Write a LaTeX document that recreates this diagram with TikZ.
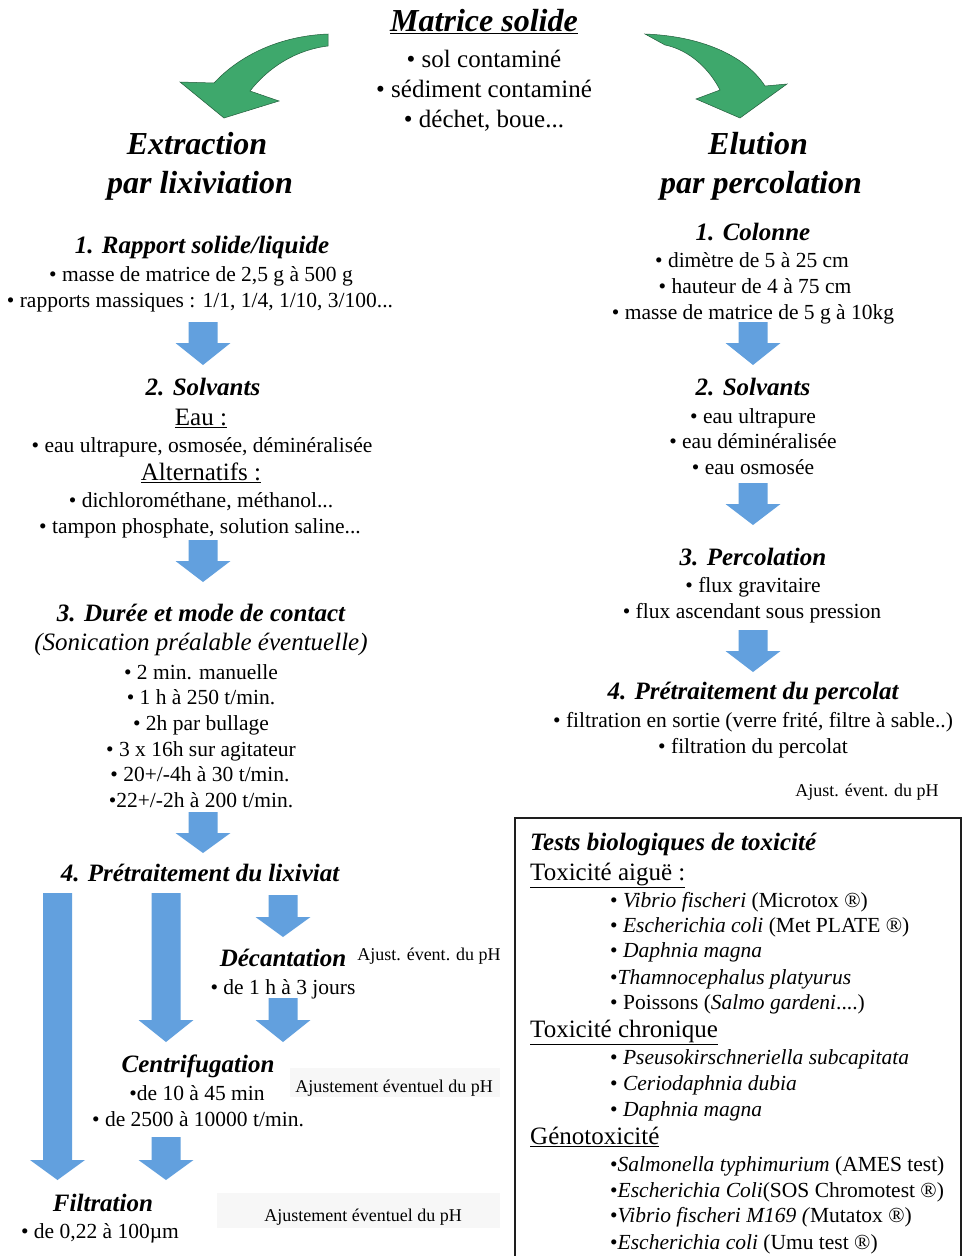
\documentclass[tikz,border=0pt]{standalone}
\usepackage{fontspec}
\setmainfont{Liberation Serif}
\definecolor{arrowblue}{RGB}{98,160,222}
\definecolor{arrowgreen}{RGB}{62,168,108}
\definecolor{boxline}{RGB}{30,30,30}
% block arrow pointing down: x centre, top of shaft, start of head, tip
\newcommand\blockdown[4]{%
  \fill[bluearrow] (#1-14.5,#2) -- (#1+14.5,#2) -- (#1+14.5,#3) -- (#1+27.5,#3)
    -- (#1,#4) -- (#1-27.5,#3) -- (#1-14.5,#3) -- cycle;}
\tikzset{
  txt/.style={inner sep=0pt, anchor=mid, yshift=-7pt},
  big/.style={txt, font=\fontsize{32}{36}\selectfont\bfseries\itshape},
  stage/.style={txt, font=\fontsize{25}{28}\selectfont\bfseries\itshape},
  lead/.style={txt, font=\fontsize{25}{28}\selectfont},
  item/.style={txt, font=\fontsize{21.5}{24}\selectfont},
  note/.style={txt, font=\fontsize{18}{20}\selectfont},
  boxlead/.style={lead, anchor=mid west},
  boxitem/.style={item, anchor=mid west},
  bluearrow/.style={fill=arrowblue},
  greenarrow/.style={fill=arrowgreen, draw=arrowgreen!55!black, line width=0.5pt},
  haze/.style={fill=black!3, draw=none},
}
\begin{document}
\begin{tikzpicture}[x=1pt,y=-1pt]
\useasboundingbox[fill=white] (0,0) rectangle (964,1256);

% ---- top: solid matrix and the two branches
\node[big] (matrice) at (484,22) {\underline{Matrice solide}};
\node[lead] (m1) at (484,58) {• sol contaminé};
\node[lead] (m2) at (484,88) {• sédiment contaminé};
\node[lead] (m3) at (484,118) {• déchet, boue...};

\filldraw[greenarrow] (328,34) .. controls (280,36) and (240,55) .. (214,83)
  -- (180,82) -- (224,118) -- (279,101) -- (250,91)
  .. controls (268,68) and (295,50) .. (328,46) -- cycle;
\filldraw[greenarrow] (645,34) .. controls (700,36) and (745,55) .. (765,86)
  -- (787,84) -- (740,118) -- (696,99) -- (720,90)
  .. controls (710,70) and (690,50) .. (665,45) -- cycle;

% ---- left branch: leaching
\node[big] (ext1) at (197,145) {Extraction};
\node[big] (ext2) at (200,184) {par lixiviation};

\node[stage] (l1) at (202,244) {1. Rapport solide/liquide};
\node[item] (l1a) at (201,272) {• masse de matrice de 2,5 g à 500 g};
\node[item] (l1b) at (200,298) {• rapports massiques : 1/1, 1/4, 1/10, 3/100...};
\blockdown{203}{322}{343}{365}

\node[stage] (l2) at (203,386) {2. Solvants};
\node[lead] (l2h) at (201,416) {\underline{Eau :}};
\node[item] (l2a) at (202,443) {• eau ultrapure, osmosée, déminéralisée};
\node[lead] (l2k) at (201,471) {\underline{Alternatifs :}};
\node[item] (l2b) at (201,498) {• dichlorométhane, méthanol...};
\node[item] (l2c) at (200,524) {• tampon phosphate, solution saline...};
\blockdown{203}{540}{561}{582}

\node[stage] (l3) at (201,612) {3. Durée et mode de contact};
\node[lead, font=\fontsize{25}{28}\selectfont\itshape] (l3s) at (201,641) {(Sonication préalable éventuelle)};
\node[item] (l3a) at (201,670) {• 2 min. manuelle};
\node[item] (l3b) at (201,695) {• 1 h à 250 t/min.};
\node[item] (l3c) at (201,721) {• 2h par bullage};
\node[item] (l3d) at (201,747) {• 3 x 16h sur agitateur};
\node[item] (l3e) at (200,772) {• 20+/-4h à 30 t/min.};
\node[item] (l3f) at (201,798) {•22+/-2h à 200 t/min.};
\blockdown{203}{812}{833}{853}

\node[stage] (l4) at (200,872) {4. Prétraitement du lixiviat};

% pre-treatment routes
\blockdown{57.5}{893}{1160}{1180}
\blockdown{166}{893}{1020}{1042}
\blockdown{283}{895}{917}{937}
\blockdown{283}{998}{1020}{1042}
\blockdown{166}{1137}{1160}{1180}

\node[stage] (dec) at (283,957) {Décantation};
\node[note] (decph) at (429,951) {Ajust. évent. du pH};
\node[item] (deca) at (283,985) {• de 1 h à 3 jours};

\fill[haze] (290,1068) rectangle (500,1097);
\node[stage] (cen) at (198,1063) {Centrifugation};
\node[note] (cenph) at (394,1083) {Ajustement éventuel du pH};
\node[item] (cena) at (197,1091) {•de 10 à 45 min};
\node[item] (cenb) at (198,1117) {• de 2500 à 10000 t/min.};

\fill[haze] (217,1193) rectangle (500,1228);
\node[stage] (fil) at (103,1202) {Filtration};
\node[note] (filph) at (363,1212) {Ajustement éventuel du pH};
\node[item] (fila) at (100,1229) {• de 0,22 à 100µm};

% ---- right branch: percolation
\node[big] (elu1) at (758,145) {Elution};
\node[big] (elu2) at (761,184) {par percolation};

\node[stage] (r1) at (753,231) {1. Colonne};
\node[item] (r1a) at (752,258) {• dimètre de 5 à 25 cm};
\node[item] (r1b) at (755,284) {• hauteur de 4 à 75 cm};
\node[item] (r1c) at (753,310) {• masse de matrice de 5 g à 10kg};
\blockdown{753}{322}{343}{365}

\node[stage] (r2) at (753,386) {2. Solvants};
\node[item] (r2a) at (753,414) {• eau ultrapure};
\node[item] (r2b) at (753,439) {• eau déminéralisée};
\node[item] (r2c) at (753,465) {• eau osmosée};
\blockdown{753}{483}{504}{525}

\node[stage] (r3) at (753,556) {3. Percolation};
\node[item] (r3a) at (753,583) {• flux gravitaire};
\node[item] (r3b) at (752,609) {• flux ascendant sous pression};
\blockdown{753}{630}{651}{672}

\node[stage] (r4) at (753,690) {4. Prétraitement du percolat};
\node[item] (r4a) at (753,718) {• filtration en sortie (verre frité, filtre à sable..)};
\node[item] (r4b) at (753,744) {• filtration du percolat};
\node[note] (r4ph) at (867,787) {Ajust. évent. du pH};

% ---- toxicity tests panel
\draw[boxline, line width=1.5pt] (515,1256) -- (515,818) -- (961,818) -- (961,1256);
\node[stage, anchor=mid west] (tests) at (530,841) {Tests biologiques de toxicité};

\node[boxlead] (aig) at (530,871) {\underline{Toxicité aiguë :}};
\node[boxitem] (a1) at (610,898) {• \textit{Vibrio fischeri} (Microtox ®)};
\node[boxitem] (a2) at (610,923) {• \textit{Escherichia coli} (Met PLATE ®)};
\node[boxitem] (a3) at (610,948) {• \textit{Daphnia magna}};
\node[boxitem] (a4) at (610,975) {•\textit{Thamnocephalus platyurus}};
\node[boxitem] (a5) at (610,1000) {• Poissons (\textit{Salmo gardeni}....)};

\node[boxlead] (chr) at (530,1028) {\underline{Toxicité chronique}};
\node[boxitem] (c1) at (610,1055) {• \textit{Pseusokirschneriella subcapitata}};
\node[boxitem] (c2) at (610,1081) {• \textit{Ceriodaphnia dubia}};
\node[boxitem] (c3) at (610,1107) {• \textit{Daphnia magna}};

\node[boxlead] (gen) at (530,1135) {\underline{Génotoxicité}};
\node[boxitem] (g1) at (610,1162) {•\textit{Salmonella typhimurium} (AMES test)};
\node[boxitem] (g2) at (610,1188) {•\textit{Escherichia Coli}(SOS Chromotest ®)};
\node[boxitem] (g3) at (610,1213) {•\textit{Vibrio fischeri M169 (}Mutatox ®)};
\node[boxitem] (g4) at (610,1240) {•\textit{Escherichia coli} (Umu test ®)};
\end{tikzpicture}
\end{document}
